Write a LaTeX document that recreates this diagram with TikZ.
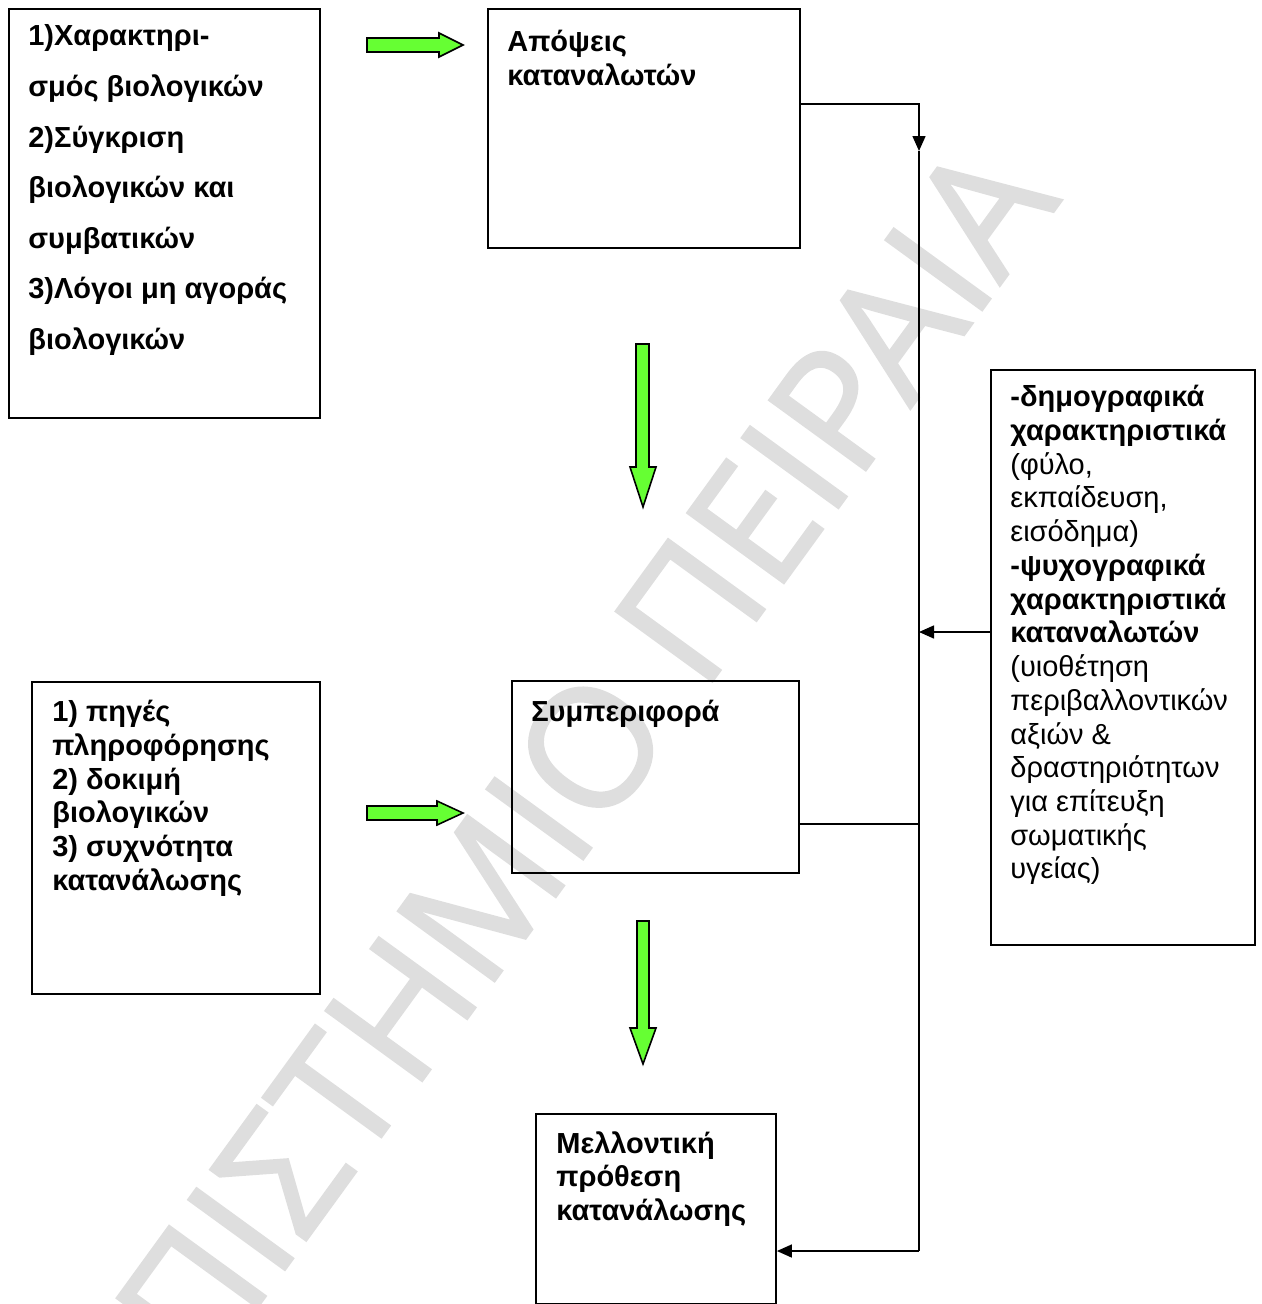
\documentclass[tikz,border=0pt]{standalone}
\usepackage{fontspec}
\setmainfont{Liberation Sans}
\newfontfamily\wmfont[FakeBold=1.5]{Open Sans}
\usetikzlibrary{arrows.meta, positioning}
\definecolor{arrowgreen}{RGB}{102,255,51}
\definecolor{wmgray}{RGB}{222,222,222}
\tikzset{
	box/.style={draw, line width=1.1pt, anchor=north west, inner sep=0pt},
	boxtext/.style={align=left, inner sep=0pt, font=\bfseries\fontsize{16.5}{19.2}\selectfont},
	link/.style={line width=0.85pt},
	linkarrow/.style={link, -{Triangle[length=0.3cm, width=0.26cm]}},
	greenarrow/.style={draw=black, fill=arrowgreen, line width=0.9pt, line join=miter},
}

\begin{document}
\begin{tikzpicture}[x=0.02cm, y=-0.02cm]
	\useasboundingbox (0,0) rectangle (1261,1304);
	% watermark
	\begin{scope}
		\clip (0,0) rectangle (1261,1304);
		\node[text=wmgray, font=\wmfont\fontsize{95}{95}\selectfont, inner sep=0pt, rotate=54, anchor=base east] (wm) at (1062,200) {ΠΑΝΕΠΙΣΤΗΜΙΟ ΠΕΙΡΑΙΑ};
	\end{scope}

	\node[box, minimum width=6.22cm, minimum height=8.18cm] (criteria) at (8,8) {};
	\node[box, minimum width=6.24cm, minimum height=4.78cm] (views) at (487,8) {};
	\node[box, minimum width=5.28cm, minimum height=11.5cm] (factors) at (990,369) {};
	\node[box, minimum width=5.76cm, minimum height=6.24cm] (sources) at (31,681) {};
	\node[box, minimum width=5.74cm, minimum height=3.84cm] (behaviour) at (511,680) {};
	\node[box, minimum width=4.8cm, minimum height=3.8cm] (intention) at (535,1113) {};

	\node[boxtext, font=\bfseries\fontsize{16.5}{28.8}\selectfont, below right=0.33cm and 0.4cm of criteria.north west] (criteriatxt)
		{1)Χαρακτηρι-\\σμός βιολογικών\\2)Σύγκριση\\βιολογικών και\\συμβατικών\\3)Λόγοι μη αγοράς\\βιολογικών};
	\node[boxtext, below right=0.44cm and 0.4cm of views.north west] (viewstxt) {Απόψεις\\καταναλωτών};
	\node[boxtext, font=\fontsize{16.5}{19.2}\selectfont, below right=0.32cm and 0.4cm of factors.north west] (factorstxt)
		{\textbf{-δημογραφικά}\\\textbf{χαρακτηριστικά}\\(φύλο,\\εκπαίδευση,\\εισόδημα)\\\textbf{-ψυχογραφικά}\\\textbf{χαρακτηριστικά}\\\textbf{καταναλωτών}\\(υιοθέτηση\\περιβαλλοντικών\\αξιών \&\\δραστηριότητων\\για επίτευξη\\σωματικής\\υγείας)};
	\node[boxtext, below right=0.38cm and 0.42cm of sources.north west] (sourcestxt)
		{1) πηγές\\πληροφόρησης\\2) δοκιμή\\βιολογικών\\3) συχνότητα\\κατανάλωσης};
	\node[boxtext, below right=0.4cm and 0.4cm of behaviour.north west] (behaviourtxt) {Συμπεριφορά};
	\node[boxtext, below right=0.36cm and 0.42cm of intention.north west] (intentiontxt) {Μελλοντική\\πρόθεση\\κατανάλωσης};

	% green block arrows
	\draw[greenarrow] (367,38) -- (439,38) -- (439,33) -- (463,45) -- (439,57) -- (439,52) -- (367,52) -- cycle;
	\draw[greenarrow] (367,806) -- (437,806) -- (437,801) -- (463,813) -- (437,825) -- (437,820) -- (367,820) -- cycle;
	\draw[greenarrow] (636,344) -- (649,344) -- (649,467) -- (656,467) -- (643,507) -- (630,467) -- (636,467) -- cycle;
	\draw[greenarrow] (637,921) -- (649,921) -- (649,1028) -- (656,1028) -- (643,1064) -- (630,1028) -- (637,1028) -- cycle;

	% feedback bus
	\coordinate (bustop) at (919,104);
	\coordinate (busdrop) at (919,151);
	\coordinate (busjoin) at (919,632);
	\coordinate (busmid) at (919,824);
	\coordinate (busbottom) at (919,1251);
	\draw[linkarrow] (views.east |- bustop) -- (bustop) -- (busdrop);
	\draw[link] (busdrop) -- (busbottom);
	\draw[linkarrow] (factors.west |- busjoin) -- (busjoin);
	\draw[link] (behaviour.east |- busmid) -- (busmid);
	\draw[linkarrow] (busbottom) -- (intention.east |- busbottom);
\end{tikzpicture}
\end{document}
